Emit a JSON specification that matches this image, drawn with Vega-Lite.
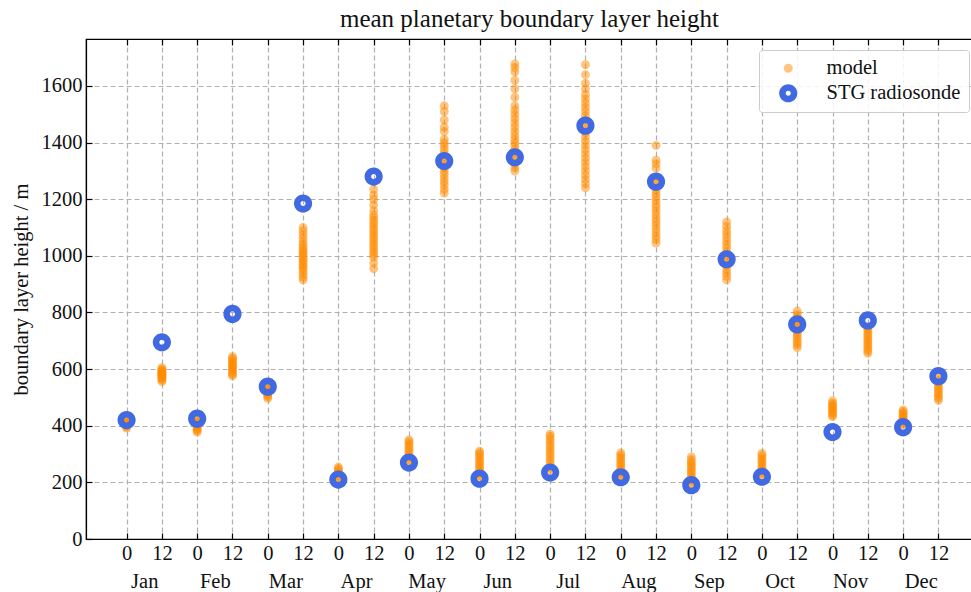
{
"$schema": "https://vega.github.io/schema/vega-lite/v6.json",
"width": 887, "height": 500,
"autosize": {"type": "none"},
"padding": {"left": 86, "top": 39, "right": 0, "bottom": 53},
"background": "white",
"title": {"text": "mean planetary boundary layer height", "font": "Liberation Serif", "fontSize": 25, "fontWeight": "normal", "color": "#111111", "offset": 6, "anchor": "middle"},
"config": {
  "view": {"stroke": "black", "strokeWidth": 1.2},
  "font": "Liberation Serif",
  "axis": {"labelFont": "Liberation Serif", "labelFontSize": 20.5, "labelColor": "#111111", "titleFont": "Liberation Serif", "titleFontSize": 20.5, "titleFontWeight": "normal", "titleColor": "#111111", "domainColor": "black", "domainWidth": 1.2, "tickColor": "black", "tickWidth": 1.2, "gridColor": "#b0b0b0", "gridDash": [5, 3], "gridWidth": 1.2},
  "legend": {"orient": "none", "legendX": 673, "legendY": 11, "padding": 8, "strokeColor": "#cccccc", "fillColor": "rgba(255,255,255,0.85)", "cornerRadius": 3, "labelFont": "Liberation Serif", "labelFontSize": 20.5, "labelColor": "#111111", "rowPadding": 4, "labelOffset": 28, "symbolOffset": 11}
},
"datasets": {
"model": [
{"month":"Jan","hour":0,"blh":392},{"month":"Jan","hour":0,"blh":396},{"month":"Jan","hour":0,"blh":400},{"month":"Jan","hour":0,"blh":403},{"month":"Jan","hour":0,"blh":406},{"month":"Jan","hour":0,"blh":409},{"month":"Jan","hour":0,"blh":412},{"month":"Jan","hour":0,"blh":415},{"month":"Jan","hour":0,"blh":418},{"month":"Jan","hour":0,"blh":405},
{"month":"Jan","hour":12,"blh":556},{"month":"Jan","hour":12,"blh":562},{"month":"Jan","hour":12,"blh":566},{"month":"Jan","hour":12,"blh":570},{"month":"Jan","hour":12,"blh":574},{"month":"Jan","hour":12,"blh":578},{"month":"Jan","hour":12,"blh":581},{"month":"Jan","hour":12,"blh":585},{"month":"Jan","hour":12,"blh":588},{"month":"Jan","hour":12,"blh":592},{"month":"Jan","hour":12,"blh":596},{"month":"Jan","hour":12,"blh":600},{"month":"Jan","hour":12,"blh":605},{"month":"Jan","hour":12,"blh":583},
{"month":"Feb","hour":0,"blh":378},{"month":"Feb","hour":0,"blh":383},{"month":"Feb","hour":0,"blh":388},{"month":"Feb","hour":0,"blh":393},{"month":"Feb","hour":0,"blh":398},{"month":"Feb","hour":0,"blh":403},{"month":"Feb","hour":0,"blh":408},{"month":"Feb","hour":0,"blh":413},{"month":"Feb","hour":0,"blh":418},{"month":"Feb","hour":0,"blh":423},
{"month":"Feb","hour":12,"blh":576},{"month":"Feb","hour":12,"blh":582},{"month":"Feb","hour":12,"blh":588},{"month":"Feb","hour":12,"blh":594},{"month":"Feb","hour":12,"blh":600},{"month":"Feb","hour":12,"blh":605},{"month":"Feb","hour":12,"blh":610},{"month":"Feb","hour":12,"blh":615},{"month":"Feb","hour":12,"blh":620},{"month":"Feb","hour":12,"blh":626},{"month":"Feb","hour":12,"blh":632},{"month":"Feb","hour":12,"blh":638},{"month":"Feb","hour":12,"blh":644},
{"month":"Mar","hour":0,"blh":497},{"month":"Mar","hour":0,"blh":503},{"month":"Mar","hour":0,"blh":508},{"month":"Mar","hour":0,"blh":513},{"month":"Mar","hour":0,"blh":518},{"month":"Mar","hour":0,"blh":523},{"month":"Mar","hour":0,"blh":528},{"month":"Mar","hour":0,"blh":533},{"month":"Mar","hour":0,"blh":538},
{"month":"Mar","hour":12,"blh":915},{"month":"Mar","hour":12,"blh":925},{"month":"Mar","hour":12,"blh":935},{"month":"Mar","hour":12,"blh":945},{"month":"Mar","hour":12,"blh":955},{"month":"Mar","hour":12,"blh":962},{"month":"Mar","hour":12,"blh":970},{"month":"Mar","hour":12,"blh":978},{"month":"Mar","hour":12,"blh":985},{"month":"Mar","hour":12,"blh":992},{"month":"Mar","hour":12,"blh":1000},{"month":"Mar","hour":12,"blh":1008},{"month":"Mar","hour":12,"blh":1015},{"month":"Mar","hour":12,"blh":1022},{"month":"Mar","hour":12,"blh":1030},{"month":"Mar","hour":12,"blh":1040},{"month":"Mar","hour":12,"blh":1050},{"month":"Mar","hour":12,"blh":1062},{"month":"Mar","hour":12,"blh":1075},{"month":"Mar","hour":12,"blh":1088},{"month":"Mar","hour":12,"blh":1100},
{"month":"Apr","hour":0,"blh":212},{"month":"Apr","hour":0,"blh":218},{"month":"Apr","hour":0,"blh":224},{"month":"Apr","hour":0,"blh":230},{"month":"Apr","hour":0,"blh":236},{"month":"Apr","hour":0,"blh":242},{"month":"Apr","hour":0,"blh":248},{"month":"Apr","hour":0,"blh":254},
{"month":"Apr","hour":12,"blh":955},{"month":"Apr","hour":12,"blh":975},{"month":"Apr","hour":12,"blh":995},{"month":"Apr","hour":12,"blh":1005},{"month":"Apr","hour":12,"blh":1015},{"month":"Apr","hour":12,"blh":1025},{"month":"Apr","hour":12,"blh":1035},{"month":"Apr","hour":12,"blh":1045},{"month":"Apr","hour":12,"blh":1055},{"month":"Apr","hour":12,"blh":1065},{"month":"Apr","hour":12,"blh":1075},{"month":"Apr","hour":12,"blh":1085},{"month":"Apr","hour":12,"blh":1095},{"month":"Apr","hour":12,"blh":1105},{"month":"Apr","hour":12,"blh":1115},{"month":"Apr","hour":12,"blh":1125},{"month":"Apr","hour":12,"blh":1135},{"month":"Apr","hour":12,"blh":1145},{"month":"Apr","hour":12,"blh":1160},{"month":"Apr","hour":12,"blh":1180},{"month":"Apr","hour":12,"blh":1200},{"month":"Apr","hour":12,"blh":1215},{"month":"Apr","hour":12,"blh":1235},
{"month":"May","hour":0,"blh":272},{"month":"May","hour":0,"blh":280},{"month":"May","hour":0,"blh":288},{"month":"May","hour":0,"blh":296},{"month":"May","hour":0,"blh":304},{"month":"May","hour":0,"blh":312},{"month":"May","hour":0,"blh":320},{"month":"May","hour":0,"blh":328},{"month":"May","hour":0,"blh":336},{"month":"May","hour":0,"blh":344},{"month":"May","hour":0,"blh":350},
{"month":"May","hour":12,"blh":1222},{"month":"May","hour":12,"blh":1235},{"month":"May","hour":12,"blh":1250},{"month":"May","hour":12,"blh":1262},{"month":"May","hour":12,"blh":1275},{"month":"May","hour":12,"blh":1288},{"month":"May","hour":12,"blh":1300},{"month":"May","hour":12,"blh":1312},{"month":"May","hour":12,"blh":1325},{"month":"May","hour":12,"blh":1338},{"month":"May","hour":12,"blh":1350},{"month":"May","hour":12,"blh":1362},{"month":"May","hour":12,"blh":1375},{"month":"May","hour":12,"blh":1388},{"month":"May","hour":12,"blh":1400},{"month":"May","hour":12,"blh":1412},{"month":"May","hour":12,"blh":1440},{"month":"May","hour":12,"blh":1455},{"month":"May","hour":12,"blh":1480},{"month":"May","hour":12,"blh":1510},{"month":"May","hour":12,"blh":1530},
{"month":"Jun","hour":0,"blh":216},{"month":"Jun","hour":0,"blh":224},{"month":"Jun","hour":0,"blh":232},{"month":"Jun","hour":0,"blh":240},{"month":"Jun","hour":0,"blh":248},{"month":"Jun","hour":0,"blh":256},{"month":"Jun","hour":0,"blh":264},{"month":"Jun","hour":0,"blh":272},{"month":"Jun","hour":0,"blh":280},{"month":"Jun","hour":0,"blh":288},{"month":"Jun","hour":0,"blh":296},{"month":"Jun","hour":0,"blh":304},{"month":"Jun","hour":0,"blh":310},
{"month":"Jun","hour":12,"blh":1300},{"month":"Jun","hour":12,"blh":1312},{"month":"Jun","hour":12,"blh":1325},{"month":"Jun","hour":12,"blh":1338},{"month":"Jun","hour":12,"blh":1350},{"month":"Jun","hour":12,"blh":1362},{"month":"Jun","hour":12,"blh":1375},{"month":"Jun","hour":12,"blh":1388},{"month":"Jun","hour":12,"blh":1400},{"month":"Jun","hour":12,"blh":1412},{"month":"Jun","hour":12,"blh":1425},{"month":"Jun","hour":12,"blh":1440},{"month":"Jun","hour":12,"blh":1455},{"month":"Jun","hour":12,"blh":1470},{"month":"Jun","hour":12,"blh":1485},{"month":"Jun","hour":12,"blh":1500},{"month":"Jun","hour":12,"blh":1515},{"month":"Jun","hour":12,"blh":1530},{"month":"Jun","hour":12,"blh":1560},{"month":"Jun","hour":12,"blh":1590},{"month":"Jun","hour":12,"blh":1620},{"month":"Jun","hour":12,"blh":1650},{"month":"Jun","hour":12,"blh":1665},{"month":"Jun","hour":12,"blh":1678},
{"month":"Jul","hour":0,"blh":242},{"month":"Jul","hour":0,"blh":252},{"month":"Jul","hour":0,"blh":262},{"month":"Jul","hour":0,"blh":272},{"month":"Jul","hour":0,"blh":282},{"month":"Jul","hour":0,"blh":292},{"month":"Jul","hour":0,"blh":302},{"month":"Jul","hour":0,"blh":312},{"month":"Jul","hour":0,"blh":322},{"month":"Jul","hour":0,"blh":332},{"month":"Jul","hour":0,"blh":342},{"month":"Jul","hour":0,"blh":352},{"month":"Jul","hour":0,"blh":362},{"month":"Jul","hour":0,"blh":370},
{"month":"Jul","hour":12,"blh":1240},{"month":"Jul","hour":12,"blh":1255},{"month":"Jul","hour":12,"blh":1270},{"month":"Jul","hour":12,"blh":1285},{"month":"Jul","hour":12,"blh":1300},{"month":"Jul","hour":12,"blh":1315},{"month":"Jul","hour":12,"blh":1330},{"month":"Jul","hour":12,"blh":1345},{"month":"Jul","hour":12,"blh":1360},{"month":"Jul","hour":12,"blh":1375},{"month":"Jul","hour":12,"blh":1390},{"month":"Jul","hour":12,"blh":1405},{"month":"Jul","hour":12,"blh":1420},{"month":"Jul","hour":12,"blh":1435},{"month":"Jul","hour":12,"blh":1450},{"month":"Jul","hour":12,"blh":1465},{"month":"Jul","hour":12,"blh":1480},{"month":"Jul","hour":12,"blh":1495},{"month":"Jul","hour":12,"blh":1510},{"month":"Jul","hour":12,"blh":1525},{"month":"Jul","hour":12,"blh":1540},{"month":"Jul","hour":12,"blh":1555},{"month":"Jul","hour":12,"blh":1570},{"month":"Jul","hour":12,"blh":1590},{"month":"Jul","hour":12,"blh":1610},{"month":"Jul","hour":12,"blh":1640},{"month":"Jul","hour":12,"blh":1675},
{"month":"Aug","hour":0,"blh":216},{"month":"Aug","hour":0,"blh":224},{"month":"Aug","hour":0,"blh":232},{"month":"Aug","hour":0,"blh":240},{"month":"Aug","hour":0,"blh":248},{"month":"Aug","hour":0,"blh":256},{"month":"Aug","hour":0,"blh":264},{"month":"Aug","hour":0,"blh":272},{"month":"Aug","hour":0,"blh":280},{"month":"Aug","hour":0,"blh":288},{"month":"Aug","hour":0,"blh":296},{"month":"Aug","hour":0,"blh":304},
{"month":"Aug","hour":12,"blh":1045},{"month":"Aug","hour":12,"blh":1058},{"month":"Aug","hour":12,"blh":1070},{"month":"Aug","hour":12,"blh":1082},{"month":"Aug","hour":12,"blh":1095},{"month":"Aug","hour":12,"blh":1108},{"month":"Aug","hour":12,"blh":1120},{"month":"Aug","hour":12,"blh":1132},{"month":"Aug","hour":12,"blh":1145},{"month":"Aug","hour":12,"blh":1158},{"month":"Aug","hour":12,"blh":1170},{"month":"Aug","hour":12,"blh":1182},{"month":"Aug","hour":12,"blh":1195},{"month":"Aug","hour":12,"blh":1208},{"month":"Aug","hour":12,"blh":1220},{"month":"Aug","hour":12,"blh":1232},{"month":"Aug","hour":12,"blh":1245},{"month":"Aug","hour":12,"blh":1260},{"month":"Aug","hour":12,"blh":1275},{"month":"Aug","hour":12,"blh":1310},{"month":"Aug","hour":12,"blh":1325},{"month":"Aug","hour":12,"blh":1338},{"month":"Aug","hour":12,"blh":1390},
{"month":"Sep","hour":0,"blh":192},{"month":"Sep","hour":0,"blh":200},{"month":"Sep","hour":0,"blh":208},{"month":"Sep","hour":0,"blh":216},{"month":"Sep","hour":0,"blh":224},{"month":"Sep","hour":0,"blh":232},{"month":"Sep","hour":0,"blh":240},{"month":"Sep","hour":0,"blh":248},{"month":"Sep","hour":0,"blh":256},{"month":"Sep","hour":0,"blh":264},{"month":"Sep","hour":0,"blh":272},{"month":"Sep","hour":0,"blh":280},{"month":"Sep","hour":0,"blh":290},
{"month":"Sep","hour":12,"blh":915},{"month":"Sep","hour":12,"blh":928},{"month":"Sep","hour":12,"blh":940},{"month":"Sep","hour":12,"blh":952},{"month":"Sep","hour":12,"blh":965},{"month":"Sep","hour":12,"blh":978},{"month":"Sep","hour":12,"blh":990},{"month":"Sep","hour":12,"blh":1002},{"month":"Sep","hour":12,"blh":1015},{"month":"Sep","hour":12,"blh":1028},{"month":"Sep","hour":12,"blh":1040},{"month":"Sep","hour":12,"blh":1052},{"month":"Sep","hour":12,"blh":1065},{"month":"Sep","hour":12,"blh":1078},{"month":"Sep","hour":12,"blh":1090},{"month":"Sep","hour":12,"blh":1105},{"month":"Sep","hour":12,"blh":1120},
{"month":"Oct","hour":0,"blh":222},{"month":"Oct","hour":0,"blh":230},{"month":"Oct","hour":0,"blh":238},{"month":"Oct","hour":0,"blh":246},{"month":"Oct","hour":0,"blh":254},{"month":"Oct","hour":0,"blh":262},{"month":"Oct","hour":0,"blh":270},{"month":"Oct","hour":0,"blh":278},{"month":"Oct","hour":0,"blh":286},{"month":"Oct","hour":0,"blh":294},{"month":"Oct","hour":0,"blh":302},
{"month":"Oct","hour":12,"blh":676},{"month":"Oct","hour":12,"blh":685},{"month":"Oct","hour":12,"blh":694},{"month":"Oct","hour":12,"blh":703},{"month":"Oct","hour":12,"blh":712},{"month":"Oct","hour":12,"blh":721},{"month":"Oct","hour":12,"blh":730},{"month":"Oct","hour":12,"blh":739},{"month":"Oct","hour":12,"blh":748},{"month":"Oct","hour":12,"blh":757},{"month":"Oct","hour":12,"blh":766},{"month":"Oct","hour":12,"blh":775},{"month":"Oct","hour":12,"blh":784},{"month":"Oct","hour":12,"blh":793},{"month":"Oct","hour":12,"blh":805},
{"month":"Nov","hour":0,"blh":432},{"month":"Nov","hour":0,"blh":438},{"month":"Nov","hour":0,"blh":444},{"month":"Nov","hour":0,"blh":450},{"month":"Nov","hour":0,"blh":456},{"month":"Nov","hour":0,"blh":462},{"month":"Nov","hour":0,"blh":468},{"month":"Nov","hour":0,"blh":474},{"month":"Nov","hour":0,"blh":480},{"month":"Nov","hour":0,"blh":488},
{"month":"Nov","hour":12,"blh":656},{"month":"Nov","hour":12,"blh":664},{"month":"Nov","hour":12,"blh":672},{"month":"Nov","hour":12,"blh":680},{"month":"Nov","hour":12,"blh":688},{"month":"Nov","hour":12,"blh":696},{"month":"Nov","hour":12,"blh":704},{"month":"Nov","hour":12,"blh":712},{"month":"Nov","hour":12,"blh":720},{"month":"Nov","hour":12,"blh":728},{"month":"Nov","hour":12,"blh":736},{"month":"Nov","hour":12,"blh":744},{"month":"Nov","hour":12,"blh":750},
{"month":"Dec","hour":0,"blh":402},{"month":"Dec","hour":0,"blh":408},{"month":"Dec","hour":0,"blh":414},{"month":"Dec","hour":0,"blh":420},{"month":"Dec","hour":0,"blh":426},{"month":"Dec","hour":0,"blh":432},{"month":"Dec","hour":0,"blh":438},{"month":"Dec","hour":0,"blh":444},{"month":"Dec","hour":0,"blh":450},{"month":"Dec","hour":0,"blh":456},
{"month":"Dec","hour":12,"blh":490},{"month":"Dec","hour":12,"blh":498},{"month":"Dec","hour":12,"blh":506},{"month":"Dec","hour":12,"blh":514},{"month":"Dec","hour":12,"blh":522},{"month":"Dec","hour":12,"blh":530},{"month":"Dec","hour":12,"blh":538},{"month":"Dec","hour":12,"blh":546},{"month":"Dec","hour":12,"blh":554},{"month":"Dec","hour":12,"blh":562},{"month":"Dec","hour":12,"blh":570}
],
"sonde": [
{"month":"Jan","hour":0,"blh":420},{"month":"Jan","hour":12,"blh":695},
{"month":"Feb","hour":0,"blh":425},{"month":"Feb","hour":12,"blh":795},
{"month":"Mar","hour":0,"blh":538},{"month":"Mar","hour":12,"blh":1185},
{"month":"Apr","hour":0,"blh":210},{"month":"Apr","hour":12,"blh":1280},
{"month":"May","hour":0,"blh":270},{"month":"May","hour":12,"blh":1335},
{"month":"Jun","hour":0,"blh":213},{"month":"Jun","hour":12,"blh":1348},
{"month":"Jul","hour":0,"blh":235},{"month":"Jul","hour":12,"blh":1460},
{"month":"Aug","hour":0,"blh":218},{"month":"Aug","hour":12,"blh":1262},
{"month":"Sep","hour":0,"blh":190},{"month":"Sep","hour":12,"blh":988},
{"month":"Oct","hour":0,"blh":220},{"month":"Oct","hour":12,"blh":758},
{"month":"Nov","hour":0,"blh":378},{"month":"Nov","hour":12,"blh":772},
{"month":"Dec","hour":0,"blh":395},{"month":"Dec","hour":12,"blh":575}
]
},
"resolve": {"axis": {"x": "independent"}},
"layer": [
{
  "data": {"name": "model"},
  "transform": [
    {"calculate": "indexof(['Jan','Feb','Mar','Apr','May','Jun','Jul','Aug','Sep','Oct','Nov','Dec'], datum.month) * 2 + datum.hour / 12", "as": "slot"},
    {"calculate": "'model'", "as": "series"}
  ],
  "mark": {"type": "point", "filled": true, "strokeWidth": 0},
  "encoding": {
    "x": {"field": "slot", "type": "quantitative", "scale": {"domain": [-1.15, 23.98], "nice": false, "zero": false},
          "axis": {"orient": "bottom", "title": null, "values": [0,1,2,3,4,5,6,7,8,9,10,11,12,13,14,15,16,17,18,19,20,21,22,23], "labelExpr": "datum.value % 2 == 0 ? '0' : '12'", "tickSize": -6, "labelPadding": 10, "grid": true, "labelFlush": false, "labelOverlap": false}},
    "y": {"field": "blh", "type": "quantitative", "scale": {"domain": [0, 1766], "nice": false},
          "axis": {"title": "boundary layer height / m", "values": [0,200,400,600,800,1000,1200,1400,1600], "format": "d", "tickSize": -6, "labelPadding": 10, "titlePadding": 10, "grid": true, "labelFlush": false}},
    "color": {"field": "series", "type": "nominal", "scale": {"domain": ["model", "STG radiosonde"], "range": ["#ff8c00", "#4169e1"]},
      "legend": {"title": null, "orient": "none", "legendX": 673, "legendY": 11}},
    "shape": {"field": "series", "type": "nominal", "scale": {"domain": ["model", "STG radiosonde"], "range": ["circle", "M 1 0 A 1 1 0 1 1 -1 0 A 1 1 0 1 1 1 0 Z M 0.28 0 A 0.28 0.28 0 1 0 -0.28 0 A 0.28 0.28 0 1 0 0.28 0 Z"]},
      "legend": {"title": null, "orient": "none", "legendX": 673, "legendY": 11}},
    "size": {"field": "series", "type": "ordinal", "scale": {"domain": ["model", "STG radiosonde"], "range": [80, 330]},
      "legend": {"title": null, "orient": "none", "legendX": 673, "legendY": 11}},
    "opacity": {"field": "series", "type": "ordinal", "scale": {"domain": ["model", "STG radiosonde"], "range": [0.5, 1]},
      "legend": {"title": null, "orient": "none", "legendX": 673, "legendY": 11}}
  }
},
{
  "data": {"name": "sonde"},
  "transform": [
    {"calculate": "indexof(['Jan','Feb','Mar','Apr','May','Jun','Jul','Aug','Sep','Oct','Nov','Dec'], datum.month) * 2 + datum.hour / 12", "as": "slot"},
    {"calculate": "'STG radiosonde'", "as": "series"}
  ],
  "mark": {"type": "point", "filled": true, "strokeWidth": 0},
  "encoding": {
    "x": {"field": "slot", "type": "quantitative",
          "axis": {"orient": "bottom", "title": null, "values": [0.5,2.5,4.5,6.5,8.5,10.5,12.5,14.5,16.5,18.5,20.5,22.5], "labelExpr": "['Jan','Feb','Mar','Apr','May','Jun','Jul','Aug','Sep','Oct','Nov','Dec'][floor(datum.value / 2)]", "domain": false, "ticks": false, "grid": false, "labelPadding": 32, "labelFlush": false, "labelOverlap": false}},
    "y": {"field": "blh", "type": "quantitative"},
    "color": {"field": "series", "type": "nominal"},
    "shape": {"field": "series", "type": "nominal"},
    "size": {"field": "series", "type": "ordinal"},
    "opacity": {"field": "series", "type": "ordinal"}
  }
},
{
  "data": {"name": "sonde"},
  "transform": [
    {"calculate": "indexof(['Jan','Feb','Mar','Apr','May','Jun','Jul','Aug','Sep','Oct','Nov','Dec'], datum.month) * 2 + datum.hour / 12", "as": "slot"}
  ],
  "mark": {"type": "point", "opacity": 0},
  "encoding": {
    "x": {"field": "slot", "type": "quantitative",
          "axis": {"orient": "top", "title": null, "values": [0,1,2,3,4,5,6,7,8,9,10,11,12,13,14,15,16,17,18,19,20,21,22,23], "labels": false, "tickSize": -6, "grid": false}},
    "y": {"field": "blh", "type": "quantitative"}
  }
}
]
}
